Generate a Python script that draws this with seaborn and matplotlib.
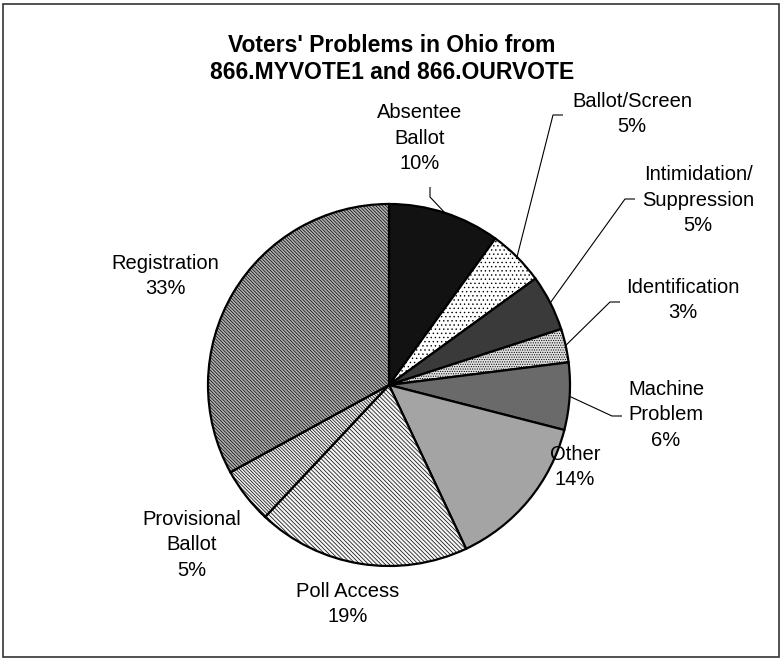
import numpy as np
import matplotlib
matplotlib.use("Agg")
import matplotlib.pyplot as plt
from matplotlib.patches import Rectangle
import seaborn as sns

# ---- data ----
categories = ["Absentee\nBallot", "Ballot/Screen", "Intimidation/\nSuppression",
              "Identification", "Machine\nProblem", "Other", "Poll Access",
              "Provisional\nBallot", "Registration"]
values = [10, 5, 5, 3, 6, 14, 19, 5, 33]
title = "Voters' Problems in Ohio from\n866.MYVOTE1 and 866.OURVOTE"

# ---- styles ----
fills = ['#121212', '#ffffff', '#3a3a3a', '#e0e0e0', '#6a6a6a',
         '#a4a4a4', '#f4f4f4', '#eeeeee', '#b0b0b0']
hatches = [None, '.' * 4, None, '.' * 7, None, None,
           '\\' * 8, '\\' * 10, '\\' * 10]

sns.set_theme(style="white")
plt.rcParams['font.family'] = ['Liberation Sans', 'DejaVu Sans']
plt.rcParams['hatch.linewidth'] = 0.5

W, H = 783, 661
fig = plt.figure(figsize=(W / 100, H / 100), dpi=100)
ax = fig.add_axes([0, 0, 1, 1])

CX, CY, R = 389, 385, 181  # pixel layout (y from top)

def py(y):
    return H - y

wedges, _ = ax.pie(values, startangle=90, counterclock=False,
                   center=(CX, py(CY)), radius=R,
                   colors=fills,
                   wedgeprops=dict(edgecolor='black', linewidth=1.6))
for w, h in zip(wedges, hatches):
    if h:
        w.set_hatch(h)

ax.set_xlim(0, W)
ax.set_ylim(0, H)
ax.set_aspect('equal')
ax.axis('off')

# label layout (pixel coords, y from top)
label_pos = [(420, 138), (632, 114), (698, 200), (683, 300), (666, 415),
             (575, 467), (348, 604), (192, 545), (165, 276)]
for name, v, (lx, ly) in zip(categories, values, label_pos):
    ax.text(lx, py(ly), f"{name}\n{v}%", ha='center', va='center',
            fontsize=14.5, linespacing=1.42, color='black')

# leader lines: elbow points (pixel) for labelled slices
leaders = {0: [(430, 197), (430, 187)],
           1: [(553, 115), (563, 115)],
           2: [(625, 199), (635, 199)],
           3: [(610, 302), (620, 302)],
           4: [(612, 416), (622, 416)]}
for i, pts in leaders.items():
    w = wedges[i]
    mid = np.deg2rad((w.theta1 + w.theta2) / 2)
    x0 = CX + R * np.cos(mid)
    y0 = py(CY) + R * np.sin(mid)
    xs = [x0] + [p[0] for p in pts]
    ys = [y0] + [py(p[1]) for p in pts]
    ax.plot(xs, ys, color='black', linewidth=0.8, solid_capstyle='butt')

ax.text(392, py(59), title, ha='center', va='center', fontsize=16.5,
        fontweight='bold', linespacing=1.2, color='black')

fig.patches.append(Rectangle((3 / W, 4 / H), 776 / W, 653 / H,
                             transform=fig.transFigure, fill=False,
                             edgecolor='#333333', linewidth=1.2))

fig.savefig("out.png", dpi=100, facecolor='white')
